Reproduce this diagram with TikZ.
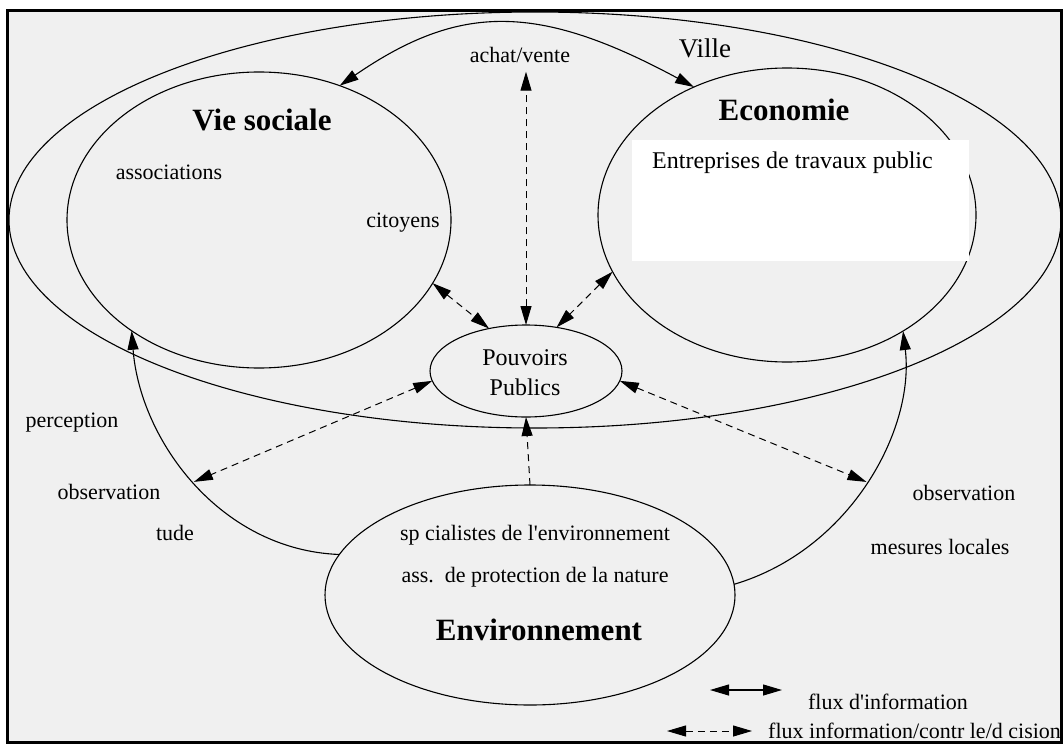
\documentclass[tikz,border=0pt]{standalone}
\usepackage{fontspec}
\setmainfont{Liberation Serif}
\usetikzlibrary{arrows.meta,shapes.geometric,calc}
\begin{document}
\begin{tikzpicture}[x=1pt,y=-1pt,
  >={Triangle[length=19pt,width=11pt]},
  blob/.style={ellipse,draw,line width=1.1pt,inner sep=0pt,outer sep=0pt},
  lbl/.style={font=\fontsize{22}{26}\selectfont,inner sep=0pt},
  big/.style={font=\fontsize{24}{30}\selectfont,inner sep=0pt},
  ttl/.style={font=\fontsize{31}{36}\selectfont\bfseries,inner sep=0pt},
  flow/.style={line width=1.1pt},
  ctrl/.style={line width=1pt,dash pattern=on 7pt off 5pt}]
\useasboundingbox (0,0) rectangle (1064,749);
\fill[black!6] (7,11) rectangle (1061,742);
\draw[line width=3pt] (7,11) rectangle (1061,742);
% ellipses
\node[blob,minimum width=1052pt,minimum height=416pt] (ville) at (535,220) {};
\node[blob,minimum width=384pt,minimum height=296pt] (vie) at (259,220) {};
\node[blob,minimum width=378pt,minimum height=294pt] (eco) at (787,215) {};
\node[fill=white,inner sep=0pt,outer sep=0pt,minimum width=337pt,minimum height=121pt,anchor=north west] (box) at (632,140) {};
\node[blob,minimum width=192pt,minimum height=92pt] (pp) at (526,371) {};
\node[blob,minimum width=410pt,minimum height=220pt] (env) at (530,595) {};
% texts
\node[ttl] (tvie) at (262,120) {Vie sociale};
\node[lbl] (asso) at (169,172) {associations};
\node[lbl] (cit) at (403,223) {citoyens};
\node[lbl,outer ysep=9pt] (achat) at (520,55) {achat/vente};
\node[font=\fontsize{27}{32}\selectfont,inner sep=0pt] (tville) at (705,48) {Ville};
\node[ttl] (teco) at (784,110) {Economie};
\node[big,anchor=west] (entr) at (652,163) {Entreprises de travaux public};
\node[big,align=center] (tpp) at (525,373) {Pouvoirs\\Publics};
\node[lbl] (perc) at (72,423) {perception};
\node[lbl] (obsl) at (109,492) {observation};
\node[lbl] (etude) at (175,533) {tude};
\node[lbl] (obsr) at (964,493) {observation};
\node[lbl] (mes) at (940,547) {mesures locales};
\node[lbl] (spec) at (535,535) {sp cialistes de l\textquotesingle environnement};
\node[lbl] (assp) at (535,577) {ass.\ \ de protection de la nature};
\node[ttl] (tenv) at (539,630) {Environnement};
% solid flows
\draw[flow,<->] (vie.59) .. controls (460,3) and (538,3) .. (eco.126);
\draw[flow,->] (env.168) .. controls (220,550) and (140,440) .. (vie.221) coordinate[pos=0.5] (pL);
\draw[flow,->] (env.3) .. controls (850,550) and (915,430) .. (eco.-45) coordinate[pos=0.5] (pR);
% dashed flows
\draw[ctrl,<->] (pp.north) -- (pp.north |- achat.south);
\draw[ctrl,<->] (vie.-20) -- (pp.131);
\draw[ctrl,<->] (eco.-162) -- (pp.55);
\draw[ctrl,<->] (pp.186) -- (pL);
\draw[ctrl,<->] (pp.-6) -- (pR);
\draw[ctrl,->] (env.north) -- (pp.south);
% legend
\coordinate (l1a) at (710,690);
\coordinate (l1b) at (782,690);
\draw[flow,<->] (l1a) -- (l1b);
\node[lbl] (leg1) at (888,702) {flux d\textquotesingle information};
\coordinate (l2a) at (667,731);
\coordinate (l2b) at (752,731);
\draw[ctrl,<->] (l2a) -- (l2b);
\node[lbl,anchor=west] (leg2) at (768,731) {flux information/contr le/d cision};
\end{tikzpicture}
\end{document}
